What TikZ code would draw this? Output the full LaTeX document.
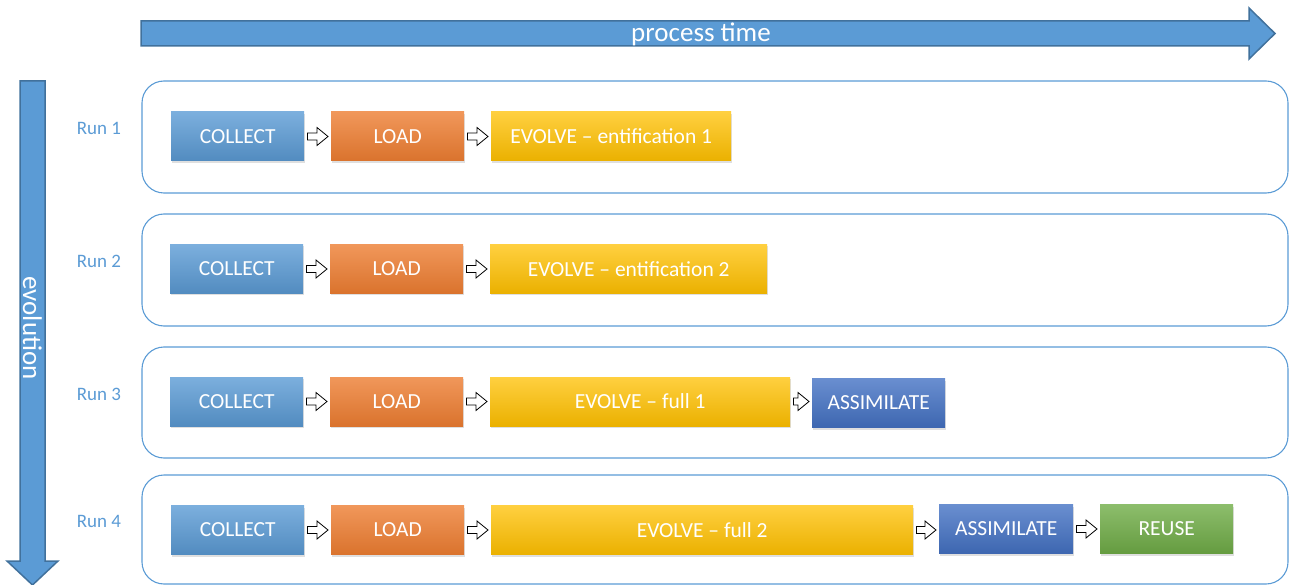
\documentclass[tikz,border=0pt]{standalone}
\usepackage{fontspec}
\setmainfont{Carlito}
\usetikzlibrary{calc,shadows}

\definecolor{stepblue}{HTML}{5B9BD5}
\definecolor{stepedge}{HTML}{41719C}
\definecolor{steporange}{HTML}{ED7D31}
\definecolor{stepgold}{HTML}{FFC000}
\definecolor{stepnavy}{HTML}{4472C4}
\definecolor{stepgreen}{HTML}{70AD47}

\begin{document}
\begin{tikzpicture}[x=1pt, y=-1pt,
    stage/.style={anchor=west, minimum height=49pt, minimum width=133pt, inner sep=0pt,
        text=white, font=\fontsize{21.5}{24}\selectfont,
        drop shadow={opacity=0.25, shadow xshift=0.8pt, shadow yshift=-2pt}},
    collect/.style={stage, top color=stepblue!80!white, bottom color=stepblue!90!black},
    load/.style={stage, top color=steporange!80!white, bottom color=steporange!92!black},
    evolve/.style={stage, top color=stepgold!75!white, bottom color=stepgold!92!black},
    assim/.style={stage, top color=stepnavy!80!white, bottom color=stepnavy!90!black},
    reuse/.style={stage, top color=stepgreen!80!white, bottom color=stepgreen!90!black},
    runframe/.style={draw=stepblue, line width=1.1pt, rounded corners=22pt},
    runlabel/.style={text=stepblue, font=\fontsize{19}{22}\selectfont},
    bigarrow/.style={fill=stepblue, draw=stepedge, line width=1.5pt},
    bigtext/.style={text=white, font=\fontsize{27}{30}\selectfont},
    flow/.style={draw=black, fill=white, line width=0.8pt,
        to path={let \p1=(\tikztostart), \p2=(\tikztotarget) in
            (\x1+3pt,\y1+3.5pt) -- (\x2-14pt,\y1+3.5pt) -- (\x2-14pt,\y1+9pt)
            -- (\x2-3pt,\y1) -- (\x2-14pt,\y1-9pt) -- (\x2-14pt,\y1-3.5pt)
            -- (\x1+3pt,\y1-3.5pt) -- cycle}}
]
    \useasboundingbox (0,0) rectangle (1290,585);

    % process time
    \draw[bigarrow] (141,21) -- (1249,21) -- (1249,8) -- (1275,33.5) -- (1249,59)
        -- (1249,46) -- (141,46) -- cycle;
    \node[bigtext] (time) at (701,34) {process time};

    % evolution
    \draw[bigarrow] (20,81) -- (45,81) -- (45,561) -- (58,561) -- (32.5,585)
        -- (7,561) -- (20,561) -- cycle;
    \node[bigtext, rotate=-90] (evo) at (32.5,328) {evolution};

    % run frames and labels
    \foreach \n/\top/\bot in {1/81/193, 2/214/326, 3/347/458, 4/475/584} {
        \draw[runframe] (142,\top) rectangle (1288,\bot);
        \node[runlabel] (run\n) at (99,{(\top+\bot)/2-8.5}) {Run \n};
    }

    % Run 1
    \node[collect] (c1) at (171,136.5) {COLLECT};
    \node[load] (l1) at (331,136.5) {LOAD};
    \node[evolve, minimum width=240pt] (e1) at (491,136.5) {EVOLVE -- entification 1};
    \draw[flow] (c1.east) to (l1.west);
    \draw[flow] (l1.east) to (e1.west);

    % Run 2
    \node[collect] (c2) at (170,269) {COLLECT};
    \node[load] (l2) at (330,269) {LOAD};
    \node[evolve, minimum width=277pt] (e2) at (490,269) {EVOLVE -- entification 2};
    \draw[flow] (c2.east) to (l2.west);
    \draw[flow] (l2.east) to (e2.west);

    % Run 3
    \node[collect] (c3) at (170,401.5) {COLLECT};
    \node[load] (l3) at (330,401.5) {LOAD};
    \node[evolve, minimum width=300pt] (e3) at (490,401.5) {EVOLVE -- full 1};
    \node[assim] (a3) at (812,403) {ASSIMILATE};
    \draw[flow] (c3.east) to (l3.west);
    \draw[flow] (l3.east) to (e3.west);
    \draw[flow] (e3.east) to (a3.west);

    % Run 4
    \node[collect] (c4) at (171,530) {COLLECT};
    \node[load] (l4) at (331,530) {LOAD};
    \node[evolve, minimum width=422pt] (e4) at (491,530) {EVOLVE -- full 2};
    \node[assim, minimum width=134pt] (a4) at (939,529) {ASSIMILATE};
    \node[reuse] (r4) at (1100,529) {REUSE};
    \draw[flow] (c4.east) to (l4.west);
    \draw[flow] (l4.east) to (e4.west);
    \draw[flow] (e4.east) to (a4.west);
    \draw[flow] (a4.east) to (r4.west);

\end{tikzpicture}
\end{document}
